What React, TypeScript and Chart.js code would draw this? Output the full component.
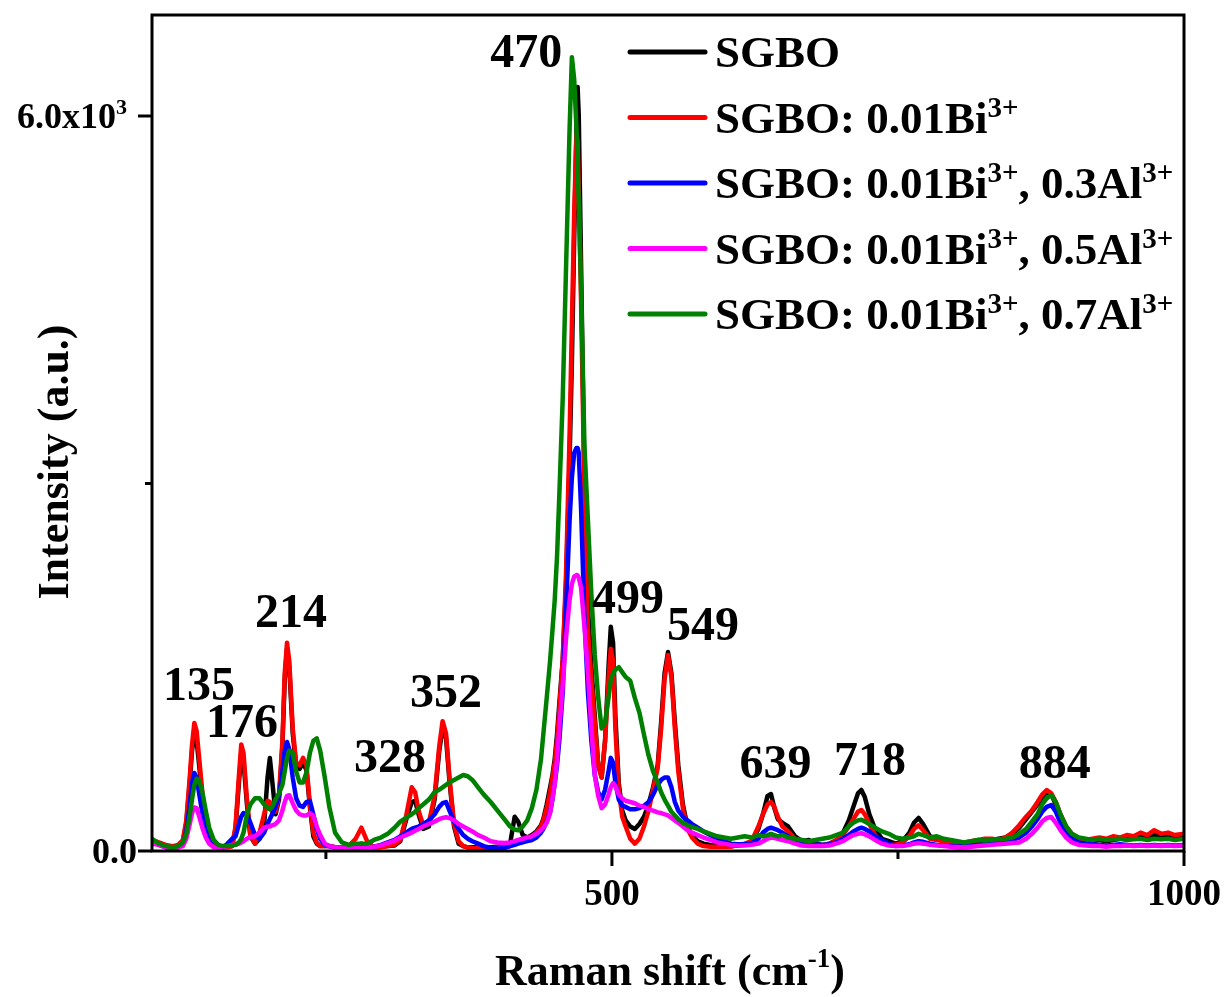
import React, { useEffect, useRef } from 'react';
import { Chart, registerables } from 'chart.js';

Chart.register(...registerables);

// Raman shift grid (cm^-1), shared by all spectra
const ramanShift = [
  98, 104, 110, 116, 121, 125, 128, 131, 133, 135,
  137, 139, 142, 145, 148, 152, 156, 160, 164, 168,
  171, 174, 176, 178, 181, 184, 188, 192, 196, 199,
  201, 203, 206, 209, 212, 214, 216, 218, 221, 224,
  227, 230, 233, 236, 239, 242, 245, 249, 253, 258,
  264, 270, 276, 281, 286, 292, 298, 304, 310, 315,
  320, 325, 328, 331, 335, 340, 345, 349, 352, 355,
  358, 362, 366, 370, 374, 378, 383, 388, 394, 400,
  406, 411, 415, 418, 422, 426, 430, 434, 438, 440,
  443, 446, 448, 450, 452, 454, 457, 460, 463, 465,
  467, 469, 470, 471, 473, 476, 479, 482, 485, 488,
  491, 494, 497, 499, 501, 503, 506, 509, 512, 516,
  520, 524, 528, 532, 536, 540, 543, 546, 549, 552,
  555, 558, 562, 566, 570, 575, 580, 586, 592, 598,
  604, 610, 616, 622, 628, 632, 636, 639, 642, 645,
  649, 654, 660, 666, 672, 678, 684, 690, 696, 702,
  707, 711, 715, 718, 721, 725, 730, 736, 742, 748,
  754, 760, 764, 768, 772, 778, 784, 790, 796, 802,
  808, 814, 820, 826, 832, 838, 844, 850, 856, 862,
  867, 872, 876, 880, 884, 888, 892, 897, 902, 908,
  914, 920, 926, 932, 938, 944, 950, 956, 962, 968,
  974, 980, 986, 992, 1000,
];

const sgbo = [
  80, 60, 40, 30, 40, 80, 230, 560, 820, 960,
  900, 720, 430, 220, 100, 40, 30, 30, 35, 40,
  180, 560, 800, 730, 380, 120, 60, 100, 220, 600,
  760, 580, 300, 420, 860, 1400, 1650, 1500, 960, 690,
  670, 720, 660, 360, 120, 60, 40, 40, 40, 30,
  30, 30, 40, 60, 40, 30, 35, 40, 45, 80,
  250, 400, 410, 300, 180, 200, 420, 810, 1010, 920,
  570, 200, 60, 40, 30, 30, 30, 30, 30, 35,
  40, 60, 280, 240, 130, 110, 130, 160, 210, 260,
  380, 520, 620, 750, 950, 1200, 1560, 2200, 3200, 4000,
  5000, 5900, 6237, 6000, 4800, 3000, 2000, 1500, 1100, 700,
  600, 900, 1500, 1830, 1700, 1100, 550, 330, 250, 200,
  180, 220, 280, 380, 520, 700, 1050, 1450, 1624, 1450,
  1050, 700, 380, 200, 130, 80, 60, 50, 45, 40,
  40, 45, 50, 70, 180, 300, 450, 465, 350, 260,
  230, 200, 120, 80, 90, 60, 50, 60, 80, 150,
  250, 360, 470, 498, 440, 300, 180, 100, 80, 60,
  80, 150, 230, 270, 220, 120, 100, 80, 70, 60,
  60, 70, 80, 80, 90, 100, 110, 140, 190, 260,
  320, 380, 440, 480, 460, 380, 280, 180, 120, 90,
  85, 80, 90, 80, 90, 100, 110, 100, 120, 110,
  130, 120, 110, 120, 110,
];

const sgboBi = [
  90, 70, 50, 40, 50, 90, 250, 600, 870, 1045,
  980, 780, 480, 250, 110, 40, 30, 30, 30, 40,
  200, 620, 870, 800, 420, 130, 60, 150, 300, 410,
  400, 320, 320, 450, 900, 1450, 1700, 1550, 1000, 720,
  700, 760, 700, 380, 150, 70, 40, 40, 40, 30,
  30, 40, 100, 190, 80, 30, 30, 40, 50, 90,
  280, 520, 480, 330, 210, 230, 450, 850, 1060, 960,
  600, 220, 80, 40, 30, 25, 25, 25, 25, 25,
  30, 40, 60, 70, 80, 100, 120, 150, 200, 250,
  350, 480, 600, 720, 900, 1150, 1560, 2300, 3400, 4300,
  5200, 5850, 5800, 5400, 4500, 2900, 1800, 1400, 1050, 700,
  600, 900, 1400, 1650, 1550, 1000, 500, 280, 200, 100,
  60, 100, 200, 330, 500, 680, 1000, 1400, 1600, 1420,
  1000, 650, 350, 180, 110, 60, 40, 35, 35, 35,
  35, 50, 60, 80, 200, 300, 380, 400, 360, 280,
  200, 160, 100, 60, 50, 45, 45, 60, 90, 130,
  200, 260, 320, 335, 300, 220, 130, 70, 50, 50,
  70, 120, 180, 210, 170, 100, 90, 80, 70, 60,
  70, 80, 90, 100, 100, 90, 110, 150, 210, 280,
  330, 400, 460, 498, 470, 400, 300, 200, 140, 100,
  90, 100, 110, 100, 120, 110, 130, 120, 150, 130,
  170, 140, 150, 130, 140,
];

const sgboBiAl03 = [
  70, 50, 30, 25, 30, 60, 160, 380, 560, 637,
  600, 480, 310, 170, 80, 30, 25, 30, 60, 100,
  120, 220, 280, 310, 300, 230, 130, 100, 150, 220,
  260, 300, 360, 450, 650, 820, 890, 830, 600, 430,
  370, 360, 400, 410, 300, 180, 100, 50, 40, 25,
  20, 20, 25, 30, 30, 35, 50, 70, 90, 120,
  150, 180, 190, 200, 220, 250, 300, 360, 390, 400,
  330, 240, 180, 130, 100, 80, 60, 40, 25, 20,
  25, 40, 50, 60, 70, 80, 90, 110, 150, 180,
  240, 320, 420, 550, 700, 900, 1300, 2000, 2700, 3050,
  3250, 3290, 3290, 3250, 2800, 1900, 1300, 900, 620, 480,
  420, 500, 650, 760, 720, 560, 420, 370, 360, 340,
  340, 350, 370, 400, 460, 540, 580, 600, 600, 520,
  400, 330, 280, 250, 220, 190, 160, 130, 100, 80,
  60, 55, 55, 60, 100, 150, 180, 190, 180, 170,
  150, 120, 80, 60, 50, 50, 50, 55, 70, 100,
  130, 160, 180, 190, 180, 160, 120, 90, 60, 40,
  45, 55, 70, 80, 75, 60, 50, 45, 40, 35,
  40, 45, 50, 55, 60, 70, 80, 90, 110, 150,
  200, 260, 320, 360, 375, 320, 230, 150, 100, 70,
  60, 55, 50, 45, 50, 55, 50, 45, 50, 45,
  50, 45, 50, 45, 50,
];

const sgboBiAl05 = [
  60, 50, 30, 25, 30, 40, 100, 220, 310, 355,
  350, 290, 190, 110, 60, 30, 25, 30, 40, 50,
  50, 60, 70, 80, 100, 115, 120, 150, 190, 200,
  200, 210, 220, 250, 330, 400, 450, 455, 390, 330,
  300, 290, 290, 310, 290, 200, 130, 60, 40, 30,
  25, 25, 30, 35, 30, 35, 45, 65, 85, 110,
  130, 150, 165, 180, 200, 220, 240, 260, 270, 275,
  270, 250, 220, 200, 180, 160, 130, 110, 80, 70,
  65, 70, 80, 90, 100, 110, 120, 140, 170, 190,
  230, 310, 430, 550, 743, 1000, 1350, 1750, 2050, 2180,
  2240, 2253, 2250, 2230, 2150, 1830, 1450, 1000, 620, 450,
  350, 380, 460, 520, 555, 530, 460, 430, 410, 400,
  390, 370, 360, 340, 330, 315, 310, 300, 290, 270,
  250, 230, 200, 170, 150, 130, 110, 90, 70, 60,
  50, 45, 45, 50, 60, 80, 100, 110, 105, 100,
  90, 80, 60, 45, 40, 40, 40, 45, 60, 80,
  110, 130, 140, 145, 135, 120, 90, 60, 45, 40,
  40, 50, 60, 65, 60, 50, 45, 40, 35, 30,
  30, 35, 40, 45, 50, 55, 60, 65, 70, 100,
  140, 190, 240, 270, 277, 230, 170, 110, 70, 50,
  45, 40, 40, 35, 40, 40, 45, 40, 45, 40,
  45, 40, 45, 40, 45,
];

const sgboBiAl07 = [
  100, 60, 40, 30, 40, 70, 140, 290, 420, 540,
  590, 580, 480, 330, 190, 90, 50, 40, 40, 45,
  50, 70, 100, 150, 300, 380, 430, 430, 380, 350,
  340, 360, 420, 470, 540, 650, 760, 820, 800, 650,
  560, 560, 640, 800, 900, 920, 820, 600, 360, 150,
  70, 50, 60, 60, 60, 90, 110, 140, 190, 240,
  270, 300, 320, 350, 380, 420, 480, 500, 520, 540,
  560, 580, 600, 620, 610, 580, 520, 460, 400, 330,
  260, 200, 175, 170, 200, 250, 350, 500, 750, 950,
  1250, 1560, 1800, 2050, 2400, 2900, 3700, 4800, 5900, 6480,
  6300, 5900, 5600, 5300, 4600, 3300, 2700, 2100, 1600, 1250,
  1000, 1050, 1250, 1400, 1450, 1480, 1500, 1460, 1420, 1390,
  1250, 1130, 950, 780, 650, 560, 480, 420, 370, 320,
  290, 260, 230, 210, 195, 180, 160, 140, 120, 110,
  100, 110, 120, 110, 130, 120, 130, 140, 130, 120,
  130, 110, 100, 90, 80, 90, 100, 110, 130, 150,
  200, 230, 250, 255, 240, 220, 190, 160, 140, 110,
  100, 110, 120, 140, 130, 110, 120, 100, 90, 80,
  70, 80, 90, 85, 90, 95, 100, 110, 140, 180,
  240, 300, 380, 430, 457, 400, 300, 200, 140, 110,
  100, 90, 100, 90, 95, 100, 90, 95, 100, 90,
  100, 95, 100, 90, 100,
];

// Legend labels, {..} = superscript
const seriesLabels = [
  'SGBO',
  'SGBO: 0.01Bi{3+}',
  'SGBO: 0.01Bi{3+}, 0.3Al{3+}',
  'SGBO: 0.01Bi{3+}, 0.5Al{3+}',
  'SGBO: 0.01Bi{3+}, 0.7Al{3+}',
];
const seriesColors = ['#000000', '#ff0000', '#0000ff', '#ff00ff', '#008000'];

const xMajorTicks = [500, 1000];
const xTickLabels = ['500', '1000'];
const xMinorTicks = [250, 750];
const yMajorTicks = [0, 6000];
const yTickLabels = ['0.0', '6.0x10{3}'];
const yMinorTicks = [3000];

const xTitle = 'Raman shift (cm{-1})';
const yTitle = 'Intensity (a.u.)';

const peakLabels = ['135', '176', '214', '328', '352', '470', '499', '549', '639', '718', '884'];
const peakLabelX = [139, 176.6, 219.4, 306, 355, 425, 514, 579.5, 643, 725.5, 887];
const peakLabelY = [1233, 931, 1829, 645, 1176, 6400, 1943, 1722, 596, 620, 596];

const FONT = "'Liberation Serif', 'Times New Roman', serif";

type Part = { t: string; sup: boolean };
function parseRich(s: string): Part[] {
  return s
    .split(/(\{[^}]*\})/)
    .filter((p) => p.length > 0)
    .map((p) => (p[0] === '{' ? { t: p.slice(1, -1), sup: true } : { t: p, sup: false }));
}
function plainText(s: string): string {
  return s.replace(/\{3\+\}/g, '³⁺').replace(/\{-1\}/g, '⁻¹').replace(/\{3\}/g, '³');
}
function drawRich(
  ctx: CanvasRenderingContext2D,
  text: string,
  x: number,
  y: number,
  size: number,
  align: 'left' | 'center' | 'right',
  supScale = 0.64,
  riseScale = 0.36
) {
  const parts = parseRich(text);
  const supSize = Math.round(size * supScale);
  const rise = size * riseScale;
  const widths = parts.map((p) => {
    ctx.font = `bold ${p.sup ? supSize : size}px ${FONT}`;
    return ctx.measureText(p.t).width;
  });
  const total = widths.reduce((a, b) => a + b, 0);
  let cx = align === 'left' ? x : align === 'center' ? x - total / 2 : x - total;
  ctx.textAlign = 'left';
  ctx.textBaseline = 'alphabetic';
  parts.forEach((p, i) => {
    ctx.font = `bold ${p.sup ? supSize : size}px ${FONT}`;
    ctx.fillText(p.t, cx, p.sup ? y - rise : y);
    cx += widths[i];
  });
}

const overlayPlugin = {
  id: 'overlay',
  afterDraw(chart: any) {
    const ctx: CanvasRenderingContext2D = chart.ctx;
    const a = chart.chartArea;
    const xs = chart.scales.x;
    const ys = chart.scales.y;
    ctx.save();
    ctx.strokeStyle = '#000';
    ctx.fillStyle = '#000';
    ctx.lineWidth = 3;
    ctx.lineCap = 'butt';
    ctx.strokeRect(a.left, a.top, a.right - a.left, a.bottom - a.top);

    ctx.beginPath();
    xMajorTicks.forEach((v) => {
      const px = xs.getPixelForValue(v);
      ctx.moveTo(px, a.bottom);
      ctx.lineTo(px, a.bottom + 15);
    });
    xMinorTicks.forEach((v) => {
      const px = xs.getPixelForValue(v);
      ctx.moveTo(px, a.bottom);
      ctx.lineTo(px, a.bottom + 8);
    });
    yMajorTicks.forEach((v) => {
      const py = ys.getPixelForValue(v);
      ctx.moveTo(a.left, py);
      ctx.lineTo(a.left - 14, py);
    });
    yMinorTicks.forEach((v) => {
      const py = ys.getPixelForValue(v);
      ctx.moveTo(a.left, py);
      ctx.lineTo(a.left - 7, py);
    });
    ctx.stroke();

    // tick labels
    xMajorTicks.forEach((v, i) => {
      drawRich(ctx, xTickLabels[i], xs.getPixelForValue(v), a.bottom + 54, 37, 'center');
    });
    yMajorTicks.forEach((v, i) => {
      const right = yTickLabels[i].includes('{') ? a.left - 25 : a.left - 15;
      drawRich(ctx, yTickLabels[i], right, ys.getPixelForValue(v) + 12, 36, 'right', 0.62, 0.38);
    });

    // axis titles
    drawRich(ctx, xTitle, 670, 985, 44, 'center', 0.62, 0.4);
    ctx.save();
    ctx.translate(68, 462);
    ctx.rotate(-Math.PI / 2);
    drawRich(ctx, yTitle, 0, 0, 44, 'center');
    ctx.restore();

    // peak labels
    peakLabels.forEach((t, i) => {
      drawRich(ctx, t, xs.getPixelForValue(peakLabelX[i]), ys.getPixelForValue(peakLabelY[i]), 48, 'center');
    });

    // legend
    seriesLabels.forEach((lab, i) => {
      const ly = 52 + i * 65.5;
      ctx.beginPath();
      ctx.strokeStyle = seriesColors[i];
      ctx.lineWidth = 5;
      ctx.lineCap = 'round';
      ctx.moveTo(630, ly);
      ctx.lineTo(705, ly);
      ctx.stroke();
      ctx.fillStyle = '#000';
      drawRich(ctx, lab, 715, ly + 15, 45, 'left', 0.64, 0.35);
    });
    ctx.restore();
  },
};

export default function App() {
  const canvasRef = useRef<HTMLCanvasElement | null>(null);

  useEffect(() => {
    const canvas = canvasRef.current;
    if (!canvas) return;
    const seriesData = [sgbo, sgboBi, sgboBiAl03, sgboBiAl05, sgboBiAl07];
    const chart = new Chart(canvas, {
      type: 'line',
      data: {
        datasets: seriesData.map((arr, i) => ({
          label: plainText(seriesLabels[i]),
          data: ramanShift.map((x, j) => ({ x, y: arr[j] })),
          borderColor: seriesColors[i],
          backgroundColor: seriesColors[i],
          borderWidth: 4.5,
          pointRadius: 0,
          tension: 0,
          fill: false,
          borderJoinStyle: 'round' as const,
          borderCapStyle: 'round' as const,
          order: seriesData.length - i,
        })),
      },
      options: {
        responsive: false,
        animation: false,
        layout: { padding: { left: 152, top: 15, right: 42, bottom: 146 } },
        scales: {
          x: { type: 'linear', min: 98, max: 1000, display: false },
          y: { type: 'linear', min: 0, max: 6824, display: false },
        },
        plugins: {
          legend: { display: false },
          tooltip: { enabled: false },
        },
        events: [],
      },
      plugins: [overlayPlugin],
    });
    return () => chart.destroy();
  }, []);

  return (
    <div style={{ position: 'absolute', left: 0, top: 0, width: 1226, height: 997, background: '#fff' }}>
      <canvas ref={canvasRef} width={1226} height={997} style={{ display: 'block' }} />
    </div>
  );
}
